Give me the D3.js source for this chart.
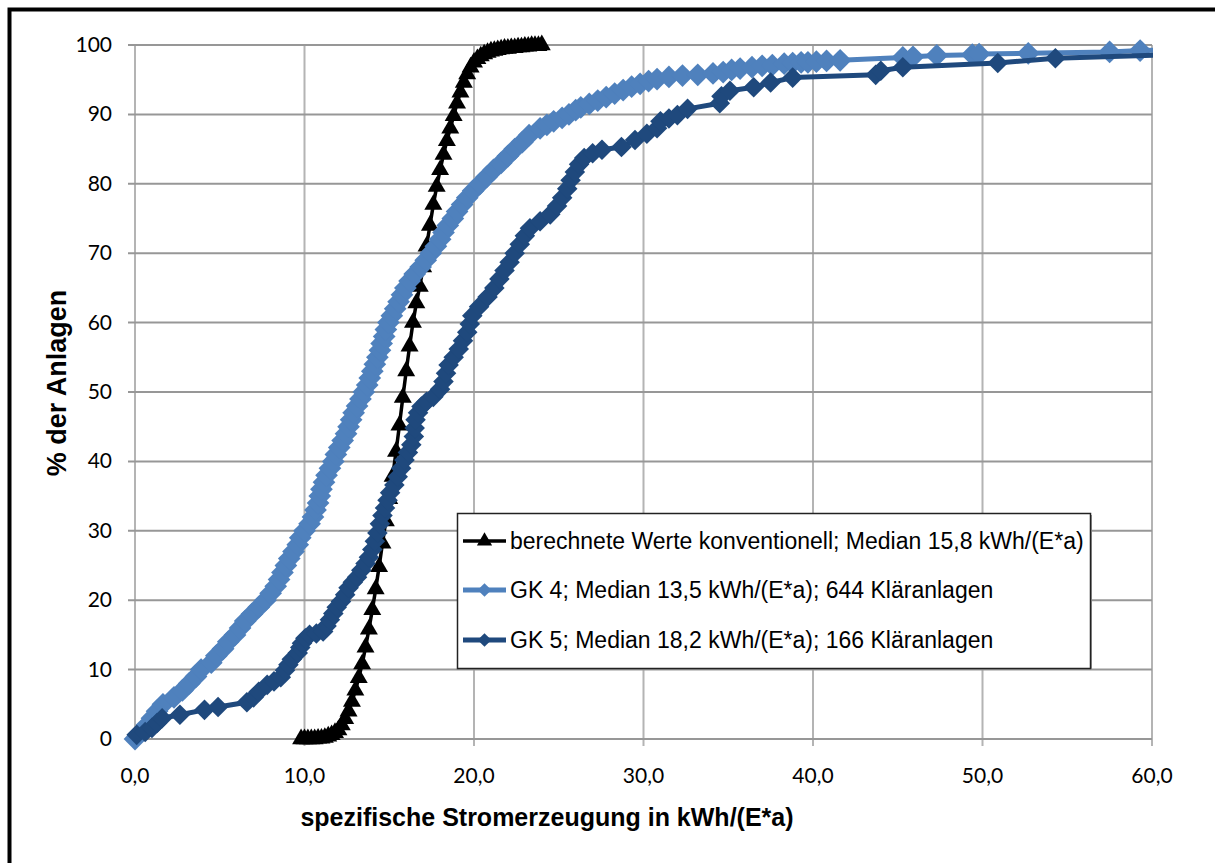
<!DOCTYPE html>
<html>
<head>
<meta charset="utf-8">
<script src="https://cdn.jsdelivr.net/npm/d3@7"></script>
<style>
	body { margin: 0; background: #fff; }
	svg { display: block; }
</style>
</head>
<body>
<svg id="chart"></svg>
<script>
// berechnete Werte (Triangles) - [kWh/(E*a), %]
const conventional = [
	[9.8,0],[10.0,0],[10.2,0],[10.4,0],[10.6,0],[10.8,0.1],[11.0,0.1],[11.2,0.2],[11.4,0.4],[11.6,0.6],
	[11.8,0.9],[12.0,1.3],[12.2,2.0],[12.4,2.9],[12.6,4.0],[12.8,5.4],[13.0,7.0],[13.2,8.8],[13.4,10.8],[13.6,13.2],
	[13.8,15.8],[14.0,18.6],[14.2,21.6],[14.4,24.8],[14.6,28.2],[14.8,31.4],[15.0,34.6],[15.2,37.8],[15.4,41.4],[15.6,45.2],
	[15.8,49.2],[16.0,53.0],[16.2,56.6],[16.4,60.0],[16.6,62.8],[16.8,65.2],[17.0,68.0],[17.2,71.0],[17.4,74.0],[17.6,77.0],
	[17.8,79.6],[18.0,82.0],[18.2,84.2],[18.4,86.2],[18.6,88.0],[18.8,89.8],[19.0,91.6],[19.2,93.2],[19.4,94.6],[19.6,95.8],
	[19.8,96.8],[20.0,97.5],[20.2,98.0],[20.4,98.4],[20.6,98.7],[20.8,98.9],[21.0,99.1],[21.2,99.2],[21.4,99.3],[21.6,99.4],
	[21.8,99.5],[22.0,99.5],[22.2,99.6],[22.4,99.6],[22.6,99.7],[22.8,99.7],[23.0,99.8],[23.2,99.8],[23.4,99.9],[23.6,99.9],
	[23.8,99.9],[24.0,100]
]

// GK 4 - 644 Kläranlagen
const gk4 = [
	[0.0,0],[0.35,1],[0.7,2],[1.0,3],[1.3,4],[1.65,5],[2.3,6],[2.8,7],[3.2,8],[3.6,9],
	[3.9,10],[4.5,11],[4.8,12],[5.2,13],[5.5,14],[5.9,15],[6.2,16],[6.5,17],[6.9,18],[7.3,19],
	[7.7,20],[8.0,21],[8.3,22],[8.5,23],[8.7,24],[8.9,25],[9.1,26],[9.35,27],[9.6,28],[9.75,29],
	[10.0,30],[10.3,31],[10.5,32],[10.65,33],[10.8,34],[10.9,35],[11.0,36],[11.15,37],[11.3,38],[11.5,39],
	[11.7,40],[11.85,41],[12.05,42],[12.25,43],[12.45,44],[12.6,45],[12.75,46],[12.9,47],[13.1,48],[13.3,49],
	[13.5,50],[13.7,51],[13.85,52],[14.0,53],[14.15,54],[14.3,55],[14.45,56],[14.55,57],[14.7,58],[14.8,59],
	[14.95,60],[15.15,61],[15.35,62],[15.55,63],[15.75,64],[15.95,65],[16.2,66],[16.5,67],[16.85,68],[17.15,69],
	[17.45,70],[17.75,71],[18.0,72],[18.2,73],[18.45,74],[18.75,75],[19.0,76],[19.3,77],[19.6,78],[19.95,79],
	[20.35,80],[20.75,81],[21.15,82],[21.6,83],[22.0,84],[22.4,85],[22.85,86],[23.25,87],[23.9,88],[24.3,88.5],
	[24.7,89],[25.2,89.5],[25.6,90],[26.0,90.6],[26.3,91],[26.8,91.5],[27.3,92],[27.8,92.5],[28.3,93],[28.8,93.5],
	[29.3,94],[29.8,94.4],[30.3,94.8],[30.8,95.1],[31.5,95.4],[32.3,95.6],[33.2,95.7],[34.1,95.9],[34.7,96.1],[35.2,96.4],
	[35.7,96.6],[36.4,96.8],[37.0,97.0],[37.6,97.1],[38.3,97.3],[38.8,97.4],[39.3,97.5],[39.7,97.5],[40.2,97.6],[40.8,97.7],
	[41.6,97.8],[45.3,98.2],[45.9,98.3],[47.3,98.5],[49.4,98.6],[49.8,98.7],[52.7,98.8],[57.5,99.0],[59.3,99.2],[65,99.4]
]

// GK 5 - 166 Kläranlagen
const gk5 = [
	[0.1,0.6],[0.6,1.0],[1.0,1.6],[1.3,2.3],[1.6,3.0],[2.65,3.5],[4.1,4.2],[4.9,4.6],[6.6,5.3],[7.0,6.0],
	[7.3,6.8],[7.8,7.8],[8.2,8.3],[8.6,8.9],[8.85,9.9],[9.05,10.7],[9.25,11.5],[9.6,12.4],[9.75,13.2],[9.85,13.8],
	[10.05,14.5],[10.3,15.0],[10.7,15.2],[11.1,15.5],[11.3,16.3],[11.5,17.2],[11.7,18.1],[11.9,19.0],[12.15,19.8],[12.4,20.8],
	[12.6,21.8],[12.85,22.6],[13.1,23.3],[13.35,24.3],[13.6,25.3],[13.8,26.2],[14.0,27.3],[14.15,28.5],[14.3,29.7],[14.45,31.0],
	[14.6,32.2],[14.75,33.3],[14.9,34.4],[15.05,35.5],[15.3,36.6],[15.5,37.8],[15.7,39.0],[15.9,40.2],[16.1,41.3],[16.3,42.4],
	[16.45,43.6],[16.5,44.8],[16.55,46.0],[16.7,47.0],[16.9,47.9],[17.2,48.6],[17.6,49.3],[18.0,50.4],[18.2,51.5],[18.35,52.7],
	[18.5,53.9],[18.8,55.0],[19.1,56.2],[19.35,57.4],[19.6,58.6],[19.75,59.8],[19.9,61.0],[20.3,62.3],[20.8,63.7],[21.2,65.0],
	[21.5,66.3],[21.8,67.5],[22.1,68.7],[22.4,70.0],[22.7,71.3],[23.0,72.5],[23.3,73.6],[23.9,74.6],[24.5,75.6],[24.9,76.8],
	[25.2,78.0],[25.5,79.3],[25.7,80.5],[25.95,81.7],[26.2,82.8],[26.5,83.7],[27.0,84.4],[27.55,84.9],[28.7,85.3],[29.5,86.3],
	[30.2,87.2],[30.8,88.0],[31.0,89.0],[31.5,89.4],[32.0,89.9],[32.6,90.8],[34.5,91.6],[34.6,92.6],[35.1,93.4],[36.5,93.9],
	[37.5,94.6],[38.8,95.3],[43.7,95.7],[44.0,96.3],[45.3,96.8],[50.9,97.4],[54.3,98.1],[64,98.8]
]

const xTicks = [0, 10, 20, 30, 40, 50, 60]
const yTicks = [0, 10, 20, 30, 40, 50, 60, 70, 80, 90, 100]
const legendLabels = [
	'berechnete Werte konventionell; Median 15,8 kWh/(E*a)',
	'GK 4; Median 13,5 kWh/(E*a); 644 Kläranlagen',
	'GK 5; Median 18,2 kWh/(E*a); 166 Kläranlagen'
]
const xTitle = 'spezifische Stromerzeugung in kWh/(E*a)'
const yTitle = '% der Anlagen'

const W = 1215, H = 863
const plotLeft = 135, plotTop = 45, plotRight = 1152, plotBottom = 739

const svg = d3.select('#chart').attr('width', W).attr('height', H)

// outer frame (runs off the picture on the right and bottom)
svg.append('rect')
	.attr('x', 9.5).attr('y', 9.5)
	.attr('width', 1400).attr('height', 1200)
	.attr('fill', 'none').attr('stroke', '#000').attr('stroke-width', 4)

const x = d3.scaleLinear().domain([0, 60]).range([plotLeft, plotRight])
const y = d3.scaleLinear().domain([0, 100]).range([plotBottom, plotTop])

const fmt = d => d.toFixed(1).replace('.', ',')

// grid
svg.append('g')
	.selectAll('line')
	.data(xTicks)
	.join('line')
	.attr('x1', d => x(d)).attr('x2', d => x(d))
	.attr('y1', plotTop).attr('y2', plotBottom + 7)
	.attr('stroke', '#b4b4b4').attr('stroke-width', 2)

svg.append('g')
	.selectAll('line')
	.data(yTicks)
	.join('line')
	.attr('x1', plotLeft - 7).attr('x2', plotRight)
	.attr('y1', d => y(d)).attr('y2', d => y(d))
	.attr('stroke', '#979797').attr('stroke-width', 2)

// axes labels
svg.append('g')
	.selectAll('text')
	.data(yTicks)
	.join('text')
	.attr('x', 112).attr('y', d => y(d) + 7)
	.attr('text-anchor', 'end')
	.style('font-family', 'Lato, sans-serif').style('font-size', '21px')
	.text(d => d)

svg.append('g')
	.selectAll('text')
	.data(xTicks)
	.join('text')
	.attr('x', d => x(d)).attr('y', 783)
	.attr('text-anchor', 'middle')
	.style('font-family', 'Lato, sans-serif').style('font-size', '21px')
	.text(d => fmt(d))

svg.append('text')
	.attr('x', 547).attr('y', 826)
	.attr('text-anchor', 'middle')
	.style('font-family', 'Liberation Sans, Arial, sans-serif')
	.style('font-size', '25px').style('font-weight', 'bold')
	.text(xTitle)

svg.append('text')
	.attr('transform', 'translate(66,383) rotate(-90)')
	.attr('text-anchor', 'middle')
	.style('font-family', 'Liberation Sans, Arial, sans-serif')
	.style('font-size', '27px').style('font-weight', 'bold')
	.text(yTitle)

// series
svg.append('clipPath').attr('id', 'plotClip')
	.append('rect').attr('x', 0).attr('y', 0).attr('width', plotRight + 1).attr('height', H)

const series = [
	{ data: conventional, color: '#000000', width: 3.5, symbol: d3.symbolTriangle, size: 140, legendSize: 100 },
	{ data: gk4, color: '#4f81bd', width: 5, symbol: d3.symbolDiamond2, size: 330, legendSize: 120 },
	{ data: gk5, color: '#1f497d', width: 5, symbol: d3.symbolDiamond2, size: 270, legendSize: 120 }
]

const line = d3.line().x(d => x(d[0])).y(d => y(d[1]))
const plot = svg.append('g').attr('clip-path', 'url(#plotClip)')

series.forEach(s => {
	const g = plot.append('g')
	g.append('path')
		.attr('d', line(s.data))
		.attr('fill', 'none')
		.attr('stroke', s.color)
		.attr('stroke-width', s.width)
		.attr('stroke-linejoin', 'round')
	g.selectAll('path.m')
		.data(s.data)
		.join('path')
		.attr('class', 'm')
		.attr('d', d3.symbol().type(s.symbol).size(s.size))
		.attr('transform', d => `translate(${x(d[0])},${y(d[1])})`)
		.attr('fill', s.color)
})

// legend
const lg = svg.append('g')
lg.append('rect')
	.attr('x', 459).attr('y', 515).attr('width', 633).attr('height', 155)
	.attr('fill', '#9a9a9a')
lg.append('rect')
	.attr('x', 457.5).attr('y', 513.5).attr('width', 633).attr('height', 155)
	.attr('fill', '#fff').attr('stroke', '#222').attr('stroke-width', 1.5)

const legendY = [541, 590, 640]
series.forEach((s, i) => {
	const ly = legendY[i]
	lg.append('line')
		.attr('x1', 463).attr('x2', 506).attr('y1', ly).attr('y2', ly)
		.attr('stroke', s.color).attr('stroke-width', s.width)
	lg.append('path')
		.attr('d', d3.symbol().type(s.symbol).size(s.legendSize)())
		.attr('transform', `translate(484.5,${ly})`)
		.attr('fill', s.color)
	lg.append('text')
		.attr('x', 510).attr('y', ly + 8)
		.style('font-family', 'Liberation Sans, Arial, sans-serif')
		.style('font-size', '23px')
		.text(legendLabels[i])
})
</script>
</body>
</html>
